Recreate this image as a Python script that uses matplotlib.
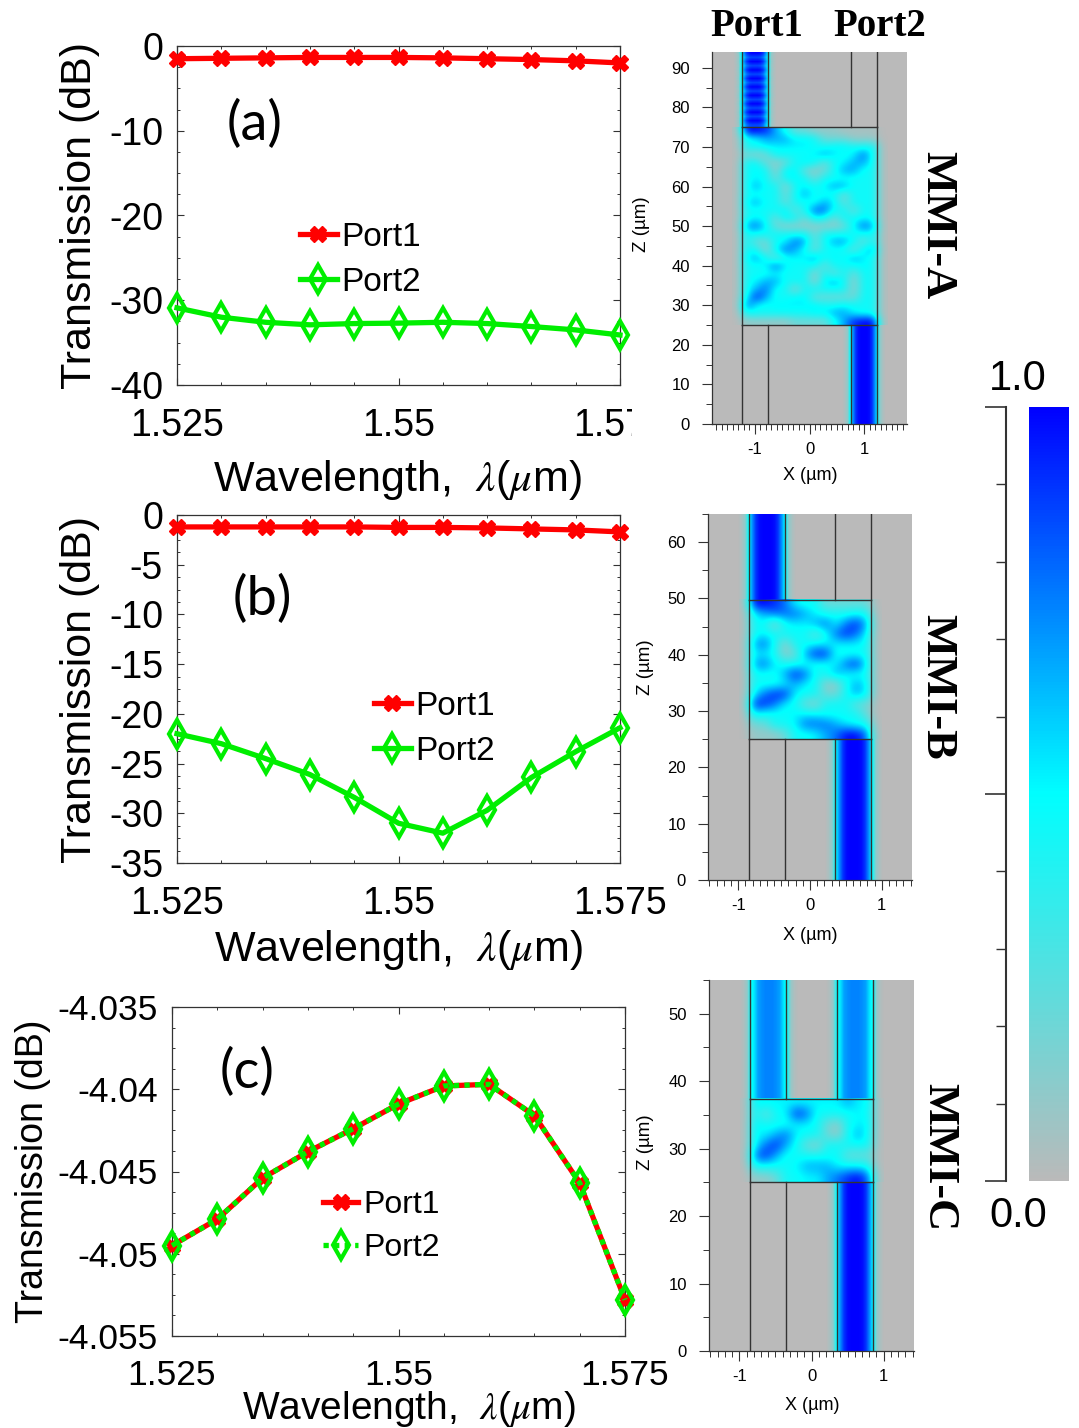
import numpy as np
import matplotlib
matplotlib.use('Agg')
import matplotlib.pyplot as plt
from matplotlib.colors import LinearSegmentedColormap
from matplotlib.ticker import MultipleLocator
from matplotlib.transforms import Bbox

plt.rcParams['font.family'] = ['Liberation Sans', 'DejaVu Sans']
plt.rcParams['mathtext.fontset'] = 'stix'
plt.rcParams['axes.unicode_minus'] = False

W, H = 1079, 1428

# wavelength sweep
wavelength = [1.525, 1.53, 1.535, 1.54, 1.545, 1.55, 1.555, 1.56, 1.565, 1.57, 1.575]

a_port1 = [-1.5, -1.45, -1.4, -1.35, -1.35, -1.35, -1.4, -1.5, -1.6, -1.75, -2.0]
a_port2 = [-30.9, -32.0, -32.6, -32.9, -32.75, -32.7, -32.6, -32.75, -33.1, -33.5, -34.1]

b_port1 = [-1.2, -1.2, -1.2, -1.2, -1.2, -1.25, -1.25, -1.3, -1.4, -1.5, -1.7]
b_port2 = [-22.0, -23.0, -24.5, -26.1, -28.4, -31.0, -32.0, -29.7, -26.4, -23.8, -21.4]

c_port1 = [-4.0495, -4.0479, -4.0454, -4.0438, -4.0424, -4.0409, -4.0398, -4.0397, -4.0416, -4.0457, -4.0528]
c_port2 = [-4.0495, -4.0479, -4.0454, -4.0438, -4.0424, -4.0409, -4.0398, -4.0397, -4.0416, -4.0457, -4.0528]

# field levels inside the multimode section, read by eye, top row = largest z
mmi_a = [
    [9, 9, 8, 6, 4, 3, 3, 2, 2, 2, 1, 1, 1, 1],
    [4, 5, 6, 6, 6, 5, 5, 4, 3, 3, 3, 2, 2, 2],
    [4, 4, 5, 5, 5, 5, 5, 4, 4, 5, 5, 4, 4, 4],
    [3, 2, 3, 4, 4, 4, 4, 5, 6, 5, 4, 5, 7, 4],
    [4, 4, 3, 2, 3, 4, 5, 4, 3, 4, 5, 6, 6, 4],
    [4, 5, 4, 2, 5, 5, 3, 2, 3, 4, 6, 6, 4, 4],
    [4, 5, 4, 3, 4, 5, 4, 3, 4, 4, 4, 4, 4, 4],
    [4, 6, 4, 4, 2, 4, 5, 4, 5, 6, 6, 4, 4, 4],
    [4, 4, 4, 4, 3, 4, 6, 4, 4, 4, 3, 4, 4, 4],
    [5, 6, 4, 4, 3, 4, 4, 4, 6, 5, 3, 4, 4, 4],
    [4, 4, 4, 4, 5, 3, 4, 7, 7, 4, 4, 3, 4, 4],
    [4, 5, 4, 3, 5, 4, 3, 5, 4, 3, 4, 4, 5, 4],
    [6, 7, 5, 3, 2, 2, 2, 2, 2, 2, 3, 5, 7, 6],
    [4, 4, 4, 4, 4, 4, 4, 3, 4, 4, 4, 4, 4, 4],
    [4, 3, 3, 4, 5, 7, 6, 3, 4, 6, 6, 4, 3, 4],
    [4, 4, 2, 5, 7, 6, 4, 3, 4, 4, 4, 3, 5, 6],
    [5, 6, 4, 3, 4, 5, 5, 6, 4, 5, 4, 6, 5, 4],
    [4, 4, 5, 7, 5, 4, 4, 4, 3, 4, 4, 4, 5, 4],
    [4, 4, 4, 5, 4, 4, 4, 2, 4, 3, 4, 3, 4, 4],
    [4, 5, 6, 6, 4, 4, 4, 2, 5, 6, 4, 2, 4, 4],
    [4, 6, 7, 4, 4, 2, 4, 4, 4, 4, 4, 2, 4, 4],
    [5, 8, 6, 4, 4, 5, 5, 3, 3, 3, 3, 3, 4, 4],
    [7, 5, 4, 5, 5, 5, 5, 5, 4, 4, 5, 4, 4, 4],
    [4, 4, 4, 4, 4, 4, 4, 5, 5, 6, 6, 5, 4, 4],
    [2, 2, 2, 2, 2, 3, 3, 3, 3, 4, 6, 8, 10, 9],
]
mmi_b = [
    [9, 9, 8, 7, 5, 4, 4, 3, 3, 3, 3, 3],
    [5, 6, 7, 7, 7, 6, 5, 4, 4, 4, 5, 4],
    [4, 4, 2, 4, 5, 5, 6, 7, 5, 7, 8, 6],
    [4, 5, 4, 4, 4, 4, 3, 4, 7, 8, 7, 5],
    [6, 7, 4, 2, 4, 4, 5, 5, 5, 5, 5, 4],
    [5, 5, 4, 2, 3, 6, 8, 8, 4, 4, 4, 4],
    [6, 7, 5, 4, 4, 4, 4, 4, 5, 7, 8, 5],
    [4, 4, 4, 6, 8, 7, 4, 4, 6, 5, 4, 4],
    [4, 4, 4, 5, 6, 5, 4, 2, 2, 4, 6, 5],
    [5, 7, 8, 8, 5, 4, 4, 3, 3, 4, 6, 5],
    [8, 8, 7, 5, 4, 3, 2, 4, 4, 4, 3, 3],
    [5, 4, 4, 4, 5, 5, 5, 4, 4, 4, 4, 3],
    [3, 3, 4, 4, 5, 7, 7, 7, 6, 5, 4, 4],
    [2, 2, 2, 3, 4, 4, 5, 6, 7, 9, 10, 7],
]
mmi_c = [
    [5, 5, 5, 5, 5, 5, 5, 5, 5, 6, 5, 5],
    [4, 3, 4, 5, 8, 7, 4, 4, 4, 4, 5, 4],
    [5, 4, 4, 4, 5, 5, 4, 3, 2, 4, 5, 5],
    [5, 5, 6, 7, 5, 4, 4, 3, 2, 4, 6, 4],
    [5, 7, 8, 6, 4, 3, 2, 4, 4, 4, 4, 4],
    [7, 8, 6, 4, 4, 4, 4, 4, 4, 3, 3, 3],
    [4, 4, 4, 4, 5, 6, 6, 6, 5, 5, 5, 4],
    [2, 2, 3, 4, 4, 5, 5, 6, 7, 8, 10, 7],
]
# intensity for each level above
level_value = np.array([0, .05, .1, .2, .46, .52, .66, .78, .92, 1, 1])

# intensity across a waveguide, from -1.6 to +1.6 half widths
guide_strong = [0, .04, .12, .5, .72, .9, .98, 1, 1, 1, .98, .9, .72, .5, .12, .04, 0]
guide_split = [0, .03, .1, .45, .55, .68, .72, .74, .74, .74, .72, .68, .55, .45, .1, .03, 0]
guide_none = [0, 0, 0, 0, 0, 0, 0, 0, 0, 0, 0, 0, 0, 0, 0, 0, 0]
# standing wave along the Port1 guide of MMI-A
ripple_a = [1, .86, 1, .86, 1, .86, 1, .86, 1, .86, 1, .86, 1, .86, 1, .86, 1, .86]

field_cmap = LinearSegmentedColormap.from_list(
    'field', [(0.73, 0.73, 0.73), (0.36, 0.87, 0.87), (0, 1, 1), (0, 0.5, 1), (0, 0, 1)])
line_col = '#333333'


def px_axes(left, top, right, bottom):
    return fig.add_axes([left / W, 1 - bottom / H, (right - left) / W, (bottom - top) / H])


def fx(x):
    return x / W


def fy(y):
    return 1 - y / H


def draw_curves(box, port1, port2, ylim, ymin, yticks, leg_xy, leg_fs, tag, tag_xy, lab_x, lab_fs, xlab_xy, xlab_fs, fs, dotted):
    ax = px_axes(*box)
    ax.plot(wavelength, port1, color='#ff0000', lw=3.8, marker='X', ms=11, mec='#ff0000', clip_on=False, zorder=3, label='Port1')
    ls = (0, (1, 1)) if dotted else '-'
    ax.plot(wavelength, port2, color='#00ee00', lw=3.8, ls=ls, marker='d', ms=14, mfc='none', mec='#00ee00',
            mew=3, clip_on=False, zorder=4, label='Port2')
    ax.set_xlim(1.525, 1.575)
    ax.set_ylim(*ylim)
    ax.set_xticks([1.525, 1.55, 1.575])
    ax.set_xticklabels(['1.525', '1.55', '1.575'])
    ax.xaxis.set_minor_locator(MultipleLocator(0.005))
    ax.yaxis.set_minor_locator(MultipleLocator(ymin))
    ax.set_yticks(yticks)
    ax.set_yticklabels([str(t) for t in yticks])
    ax.tick_params(which='major', direction='in', length=5, width=0.8, color=line_col, top=True, right=True, labelsize=fs)
    ax.tick_params(which='minor', direction='in', length=2.5, width=0.7, color=line_col, top=True, right=True)
    ax.tick_params(axis='x', which='major', pad=16.5)
    ax.tick_params(axis='y', which='major', pad=10)
    for s in ax.spines.values():
        s.set_linewidth(0.9)
        s.set_color(line_col)

    ax.set_ylabel('Transmission (dB)', fontsize=lab_fs, va='center')
    ax.yaxis.set_label_coords(fx(lab_x), fy((box[1] + box[3]) / 2), transform=fig.transFigure)
    ax.set_xlabel('Wavelength,  $\\lambda$($\\mu$m)', fontsize=xlab_fs, va='center')
    ax.xaxis.set_label_coords(fx(xlab_xy[0]), fy(xlab_xy[1]), transform=fig.transFigure)

    fig.text(fx(tag_xy[0]), fy(tag_xy[1]), tag, family='Lato', fontsize=39, ha='center', va='center')
    ax.legend(loc='upper left', bbox_to_anchor=(fx(leg_xy[0]), fy(leg_xy[1])), bbox_transform=fig.transFigure,
              frameon=False, fontsize=leg_fs, borderpad=0, borderaxespad=0,
              handlelength=1.1, handletextpad=0.15, labelspacing=0.42)
    return ax


def draw_guide(ax, x1, x2, z1, z2, profile, ripple=None):
    half = (x2 - x1) / 2
    mid = (x1 + x2) / 2
    rows = [profile] if ripple is None else np.outer(ripple, profile)
    ax.imshow(rows, cmap=field_cmap, vmin=0, vmax=1, aspect='auto', interpolation='bilinear',
              extent=[mid - 1.7 * half, mid + 1.7 * half, z1, z2], zorder=1)


def draw_field(box, xlim, ztop, guides, mmi_top, mmi, profiles, xlab_xy, zlab_xy, ripple=None):
    g1, g2, g3, g4 = guides
    ax = px_axes(*box)
    ax.set_facecolor(field_cmap(0.0))
    draw_guide(ax, g1, g2, mmi_top, ztop, profiles[0], ripple)
    draw_guide(ax, g3, g4, mmi_top, ztop, profiles[1])
    draw_guide(ax, g1, g2, 0, 25, profiles[2])
    draw_guide(ax, g3, g4, 0, 25, profiles[3])

    # one zero column each side gives the soft edge outside the frame
    m = np.pad(level_value[np.array(mmi)], ((0, 0), (1, 1)))
    cell = (g4 - g1) / len(mmi[0])
    ax.imshow(m, cmap=field_cmap, vmin=0, vmax=1, aspect='auto', interpolation='bicubic',
              extent=[g1 - cell, g4 + cell, 25, mmi_top], zorder=2)

    for x in [g1, g2, g3, g4]:
        ax.plot([x, x], [0, 25], color=line_col, lw=1, zorder=5)
        ax.plot([x, x], [mmi_top, ztop], color=line_col, lw=1, zorder=5)
    ax.plot([g1, g1], [25, mmi_top], color=line_col, lw=1, zorder=5)
    ax.plot([g4, g4], [25, mmi_top], color=line_col, lw=1, zorder=5)
    ax.plot([g1, g4], [25, 25], color=line_col, lw=1, zorder=5)
    ax.plot([g1, g4], [mmi_top, mmi_top], color=line_col, lw=1, zorder=5)

    ax.set_xlim(*xlim)
    ax.set_ylim(0, ztop)
    ax.set_xticks([-1, 0, 1])
    ax.set_xticklabels(['-1', '0', '1'])
    ax.xaxis.set_minor_locator(MultipleLocator(0.1))
    ax.yaxis.set_major_locator(MultipleLocator(10))
    ax.yaxis.set_minor_locator(MultipleLocator(5))
    ax.spines['top'].set_visible(False)
    ax.spines['right'].set_visible(False)
    for s in ['left', 'bottom']:
        ax.spines[s].set_color(line_col)
        ax.spines[s].set_linewidth(0.9)
    ax.tick_params(which='major', length=7, width=0.8, color=line_col, labelsize=12)
    ax.tick_params(axis='x', which='major', pad=6)
    ax.tick_params(axis='y', which='major', pad=9)
    ax.tick_params(which='minor', length=4, width=0.7, color=line_col)
    ax.set_xlabel('X (µm)', fontsize=13, va='center')
    ax.xaxis.set_label_coords(fx(xlab_xy[0]), fy(xlab_xy[1]), transform=fig.transFigure)
    ax.set_ylabel('Z (µm)', fontsize=13.5, va='center')
    ax.yaxis.set_label_coords(fx(zlab_xy[0]), fy(zlab_xy[1]), transform=fig.transFigure)
    return ax


fig = plt.figure(figsize=(W / 100, H / 100), dpi=100, facecolor='white')

ax_a = draw_curves((177, 46, 620, 385), a_port1, a_port2, (-40, 0), 2.5, [-40, -30, -20, -10, 0],
                   (300, 222), 24, '(a)', (255, 124), 80, 31, (397, 480), 31, 27, False)
ax_b = draw_curves((177, 515, 620, 863), b_port1, b_port2, (-35, 0), 1.25, [-35, -30, -25, -20, -15, -10, -5, 0],
                   (374, 691), 24, '(b)', (262, 599), 80, 31, (398, 950), 31, 27, False)
ax_c = draw_curves((172, 1007, 625, 1336), c_port1, c_port2, (-4.055, -4.035), 0.00125,
                   [-4.055, -4.05, -4.045, -4.04, -4.035],
                   (323, 1190), 23, '(c)', (247, 1072), 33, 27, (409, 1409), 28, 25.5, True)

# the 1.575 label of panel (a) is cut off in the source figure
lab = ax_a.get_xticklabels()[2]
lab.set_clip_on(True)
lab.set_clip_box(Bbox([[0, 0], [632, H]]))

draw_field((712, 52, 907, 424), (-1.78, 1.78), 94, (-1.24, -0.75, 0.75, 1.24), 75, mmi_a,
           (guide_strong, guide_none, guide_none, guide_strong), (810, 476), (642, 224), ripple_a)
draw_field((708, 514, 912, 880), (-1.42, 1.42), 65, (-0.85, -0.35, 0.35, 0.85), 49.7, mmi_b,
           (guide_strong, guide_none, guide_none, guide_strong), (810, 936), (646, 667))
draw_field((709, 980, 914, 1351), (-1.42, 1.42), 55, (-0.85, -0.35, 0.35, 0.85), 37.4, mmi_c,
           (guide_split, guide_split, guide_none, guide_strong), (812, 1406), (646, 1142))

# header and side names
fig.text(fx(757), fy(26), 'Port1', family='Liberation Serif', weight='bold', fontsize=28, ha='center', va='center')
fig.text(fx(880), fy(26), 'Port2', family='Liberation Serif', weight='bold', fontsize=28, ha='center', va='center')
fig.text(fx(937), fy(225), 'MMI-A', family='Liberation Serif', weight='bold', fontsize=32, rotation=-90, ha='center', va='center')
fig.text(fx(937), fy(687), 'MMI-B', family='Liberation Serif', weight='bold', fontsize=32, rotation=-90, ha='center', va='center')
fig.text(fx(939), fy(1157), 'MMI-C', family='Liberation Serif', weight='bold', fontsize=32, rotation=-90, ha='center', va='center')

# colour scale
ax_bar = px_axes(1029, 407, 1069, 1181)
ax_bar.imshow(np.linspace(1, 0, 256).reshape(-1, 1), cmap=field_cmap, vmin=0, vmax=1, aspect='auto')
ax_bar.axis('off')

ax_scale = px_axes(985, 407, 1006, 1181)
ax_scale.set_ylim(0, 1)
ax_scale.set_xticks([])
ax_scale.yaxis.tick_right()
ax_scale.set_yticks([0, 0.5, 1])
ax_scale.set_yticklabels([])
ax_scale.yaxis.set_minor_locator(MultipleLocator(0.1))
ax_scale.tick_params(axis='y', which='major', direction='in', length=15, width=1.2, color=line_col)
ax_scale.tick_params(axis='y', which='minor', direction='in', length=7, width=1.0, color=line_col)
for s in ['left', 'top', 'bottom']:
    ax_scale.spines[s].set_visible(False)
ax_scale.spines['right'].set_linewidth(1.5)
ax_scale.spines['right'].set_color(line_col)
ax_scale.patch.set_alpha(0)

fig.text(fx(1018), fy(379), '1.0', fontsize=30, ha='center', va='center')
fig.text(fx(1018), fy(1216), '0.0', fontsize=30, ha='center', va='center')

fig.savefig('out.png', dpi=100)
